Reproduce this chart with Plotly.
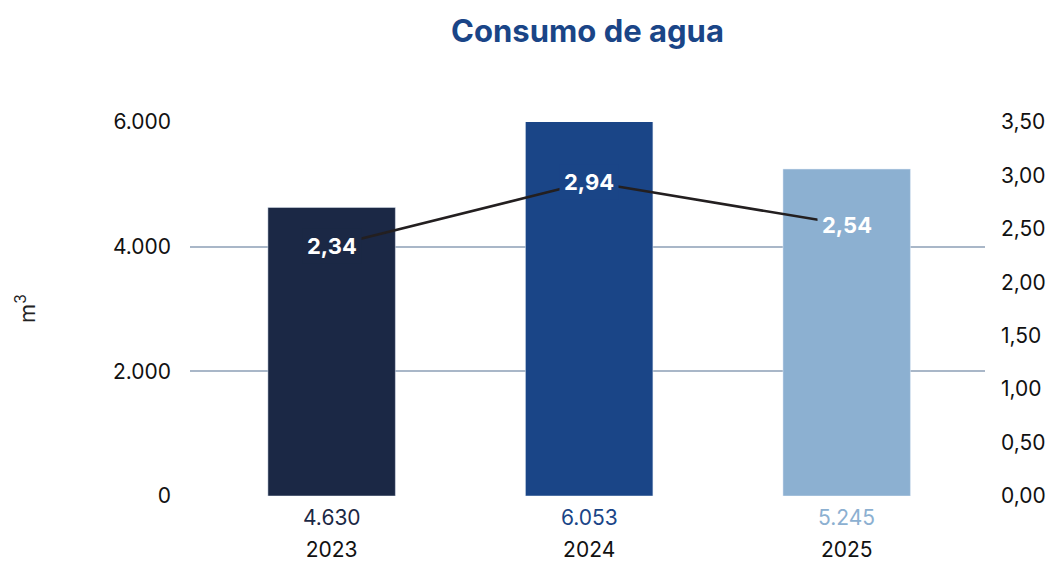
import plotly.graph_objects as go

years = ["2023", "2024", "2025"]
consumo = [4630, 6053, 5245]
consumo_labels = ["4.630", "6.053", "5.245"]
ratio = [2.34, 2.94, 2.54]
ratio_labels = ["2,34", "2,94", "2,54"]
bar_colors = ["#1b2845", "#1a4587", "#8cb0d1"]

FONT = "Inter"

# page body has an 8px default margin: figure spans 8..1054 horizontally and 8..562 vertically
W, H = 1046, 554
OFF = 8
PL, PR, PT, PB = 190, 985, 122, 496  # plot area in screen pixels

fig = go.Figure()
fig.add_trace(go.Bar(
    x=years, y=consumo, marker_color=bar_colors, width=0.495,
    showlegend=False, hoverinfo="skip"))
fig.add_trace(go.Scatter(
    x=years, y=ratio, yaxis="y2", mode="lines",
    line=dict(color="#231f20", width=2.6), showlegend=False, hoverinfo="skip"))

annotations = []
for i, (v, lab, c) in enumerate(zip(ratio, ratio_labels, bar_colors)):
    annotations.append(dict(
        x=i, y=v, xref="x", yref="y2", text="<b>" + lab + "</b>",
        showarrow=False, font=dict(family=FONT, size=22, color="white"),
        bgcolor=c, borderpad=4))
for i, (lab, c) in enumerate(zip(consumo_labels, bar_colors)):
    annotations.append(dict(
        x=i, y=0, xref="x", yref="paper", text=lab, yshift=-21,
        yanchor="middle", showarrow=False,
        font=dict(family=FONT, size=21, color=c)))
annotations.append(dict(
    x=(25 - PL) / (PR - PL), y=0.5, xref="paper", yref="paper", text="m<sup>3</sup>",
    textangle=-90, showarrow=False, xanchor="center", yanchor="middle",
    font=dict(family=FONT, size=22, color="#222222")))

fig.update_layout(
    width=W, height=H,
    margin=dict(l=PL - OFF, r=W + OFF - PR, t=PT - OFF, b=H + OFF - PB,
                autoexpand=False),
    paper_bgcolor="white", plot_bgcolor="white",
    separators=",.",
    title=dict(text="<b>Consumo de agua</b>", x=0.5, xref="paper", xanchor="center",
               y=1 - (31 - OFF) / H, yanchor="middle",
               font=dict(family=FONT, size=31, color="#1a4587")),
    xaxis=dict(type="category", range=[-0.55, 2.537], showgrid=False, zeroline=False,
               showline=False, ticks="", automargin=False,
               tickfont=dict(family=FONT, size=21, color="#111111"),
               ticklabelstandoff=39),
    yaxis=dict(range=[0, 6000], dtick=2000, tickformat=",d",
               showgrid=True, gridcolor="#a9b7c8", gridwidth=2,
               zeroline=False, showline=False, ticks="", automargin=False,
               ticklabelstandoff=18,
               tickfont=dict(family=FONT, size=21, color="#111111")),
    yaxis2=dict(range=[0, 3.5], dtick=0.5, tickformat=".2f", overlaying="y",
                side="right", showgrid=False, zeroline=False, showline=False,
                ticks="", ticklabelstandoff=15, automargin=False,
                tickfont=dict(family=FONT, size=21, color="#111111")),
    annotations=annotations,
)

fig.write_html("out.html")
